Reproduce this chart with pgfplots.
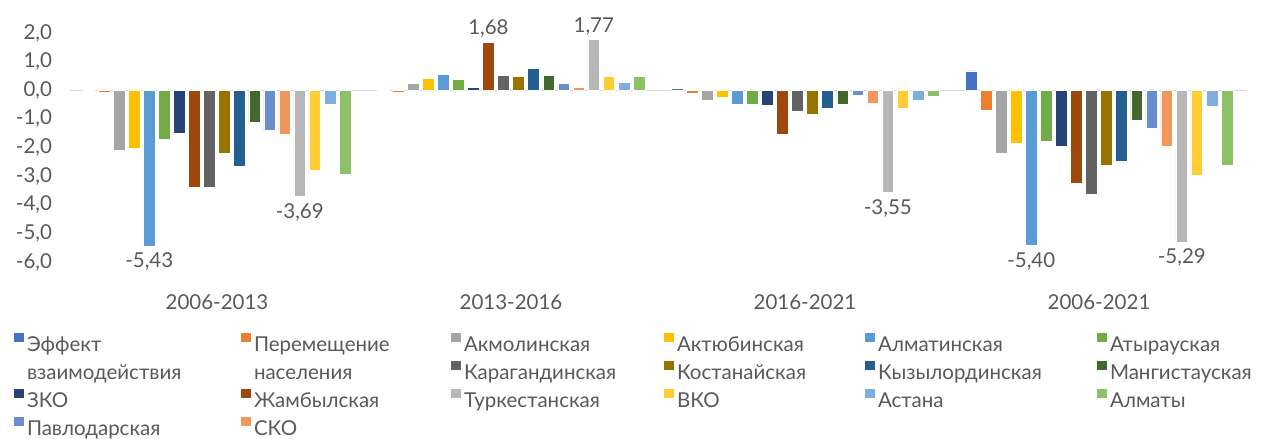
\documentclass[border=0pt]{standalone}
\usepackage{pgfplots}
\pgfplotsset{compat=1.18}
\usepackage{pgfplotstable}
\usepackage{fontspec}
\setmainfont{Lato}
\definecolor{c0}{HTML}{4472C4}
\definecolor{c1}{HTML}{ED7D31}
\definecolor{c2}{HTML}{A5A5A5}
\definecolor{c3}{HTML}{FFC000}
\definecolor{c4}{HTML}{5B9BD5}
\definecolor{c5}{HTML}{70AD47}
\definecolor{c6}{HTML}{264478}
\definecolor{c7}{HTML}{9E480E}
\definecolor{c8}{HTML}{636363}
\definecolor{c9}{HTML}{997300}
\definecolor{c10}{HTML}{255E91}
\definecolor{c11}{HTML}{43682B}
\definecolor{c12}{HTML}{698ED0}
\definecolor{c13}{HTML}{F1975A}
\definecolor{c14}{HTML}{B7B7B7}
\definecolor{c15}{HTML}{FFCD33}
\definecolor{c16}{HTML}{7CAFDD}
\definecolor{c17}{HTML}{8CC168}
\definecolor{txt}{HTML}{595959}
\definecolor{zl}{HTML}{D9D9D9}

\pgfplotstableread{
x  s0    s1    s2    s3    s4    s5    s6    s7    s8    s9    s10   s11   s12   s13   s14   s15   s16   s17
0  0.00 -0.08 -2.09 -2.04 -5.43 -1.71 -1.51 -3.39 -3.37 -2.20 -2.64 -1.11 -1.40 -1.52 -3.69 -2.78 -0.50 -2.93
1  0.04 -0.07  0.24  0.41  0.56  0.38  0.10  1.68  0.51  0.48  0.76  0.52  0.23  0.10  1.77  0.48  0.27  0.49
2  0.08 -0.10 -0.34 -0.24 -0.50 -0.50 -0.52 -1.54 -0.73 -0.82 -0.62 -0.48 -0.19 -0.44 -3.55 -0.63 -0.34 -0.21
3  0.68 -0.69 -2.19 -1.86 -5.40 -1.79 -1.94 -3.24 -3.62 -2.60 -2.49 -1.04 -1.34 -1.97 -5.29 -2.97 -0.55 -2.63
}\data

\newcommand{\fs}{\fontsize{20.5}{25}\selectfont}

\begin{document}
\begin{tikzpicture}
\begin{axis}[
  name=ax,
  scale only axis,
  width=1176pt, height=229.2pt,
  xmin=-0.5, xmax=3.5, ymin=-6, ymax=2,
  axis line style={draw=none},
  tick style={draw=none},
  major tick length=0pt,
  xtick={0,1,2,3},
  xticklabels={2006-2013,2013-2016,2016-2021,2006-2021},
  ytick={-6,-5,-4,-3,-2,-1,0,1,2},
  /pgf/number format/assume math mode=true,
  /pgf/number format/use comma,
  /pgf/number format/fixed,
  /pgf/number format/fixed zerofill,
  /pgf/number format/precision=1,
  tick label style={font=\fs, text=txt},
  yticklabel style={anchor=east, xshift=-14.5pt},
  xticklabel style={anchor=north, text height=15pt, yshift=-29pt},
  extra y ticks={0},
  extra y tick labels={},
  extra y tick style={grid=major, major grid style={draw=zl, line width=1.5pt}},
  legend image code/.code={\fill[#1, draw=none] (0pt,4pt) rectangle (10pt,13pt);},
  legend columns=6,
  legend cell align=left,
  legend style={at={(axis description cs:0,0)}, anchor=north west,
    xshift=-56pt, yshift=-70pt, draw=none, fill=none,
    inner sep=0pt, outer sep=0pt, row sep=0pt, column sep=0pt,
    font=\fs, text=txt,
    nodes={inner xsep=3pt, inner ysep=4pt, text height=15pt, text depth=5pt}},
  bars/.style={ybar, bar width=0.04, draw=white, line width=0.5pt, forget plot},
  lbl/.style 2 args={only marks, mark=none, forget plot, point meta=explicit symbolic,
    nodes near coords, every node near coord/.append style={font=\fs, text=txt, anchor=#1, inner sep=3pt, yshift=#2}},
]
\addplot[bars, fill=c0,  bar shift=-0.4352] table[x=x,y=s0]  {\data};
\addplot[bars, fill=c1,  bar shift=-0.3840] table[x=x,y=s1]  {\data};
\addplot[bars, fill=c2,  bar shift=-0.3328] table[x=x,y=s2]  {\data};
\addplot[bars, fill=c3,  bar shift=-0.2816] table[x=x,y=s3]  {\data};
\addplot[bars, fill=c4,  bar shift=-0.2304] table[x=x,y=s4]  {\data};
\addplot[bars, fill=c5,  bar shift=-0.1792] table[x=x,y=s5]  {\data};
\addplot[bars, fill=c6,  bar shift=-0.1280] table[x=x,y=s6]  {\data};
\addplot[bars, fill=c7,  bar shift=-0.0768] table[x=x,y=s7]  {\data};
\addplot[bars, fill=c8,  bar shift=-0.0256] table[x=x,y=s8]  {\data};
\addplot[bars, fill=c9,  bar shift=0.0256]  table[x=x,y=s9]  {\data};
\addplot[bars, fill=c10, bar shift=0.0768]  table[x=x,y=s10] {\data};
\addplot[bars, fill=c11, bar shift=0.1280]  table[x=x,y=s11] {\data};
\addplot[bars, fill=c12, bar shift=0.1792]  table[x=x,y=s12] {\data};
\addplot[bars, fill=c13, bar shift=0.2304]  table[x=x,y=s13] {\data};
\addplot[bars, fill=c14, bar shift=0.2816]  table[x=x,y=s14] {\data};
\addplot[bars, fill=c15, bar shift=0.3328]  table[x=x,y=s15] {\data};
\addplot[bars, fill=c16, bar shift=0.3840]  table[x=x,y=s16] {\data};
\addplot[bars, fill=c17, bar shift=0.4352]  table[x=x,y=s17] {\data};
% data labels (x = category + bar shift of the labelled series)
\addplot[lbl={north}{-4pt}] coordinates {(-0.2304,-5.43) [-5,43] (2.7696,-5.40) [-5,40]
  (0.2816,-3.69) [-3,69] (2.2816,-3.55) [-3,55] (3.2816,-5.29) [-5,29]};
\addplot[lbl={south}{1.5pt}] coordinates {(0.9232,1.68) [1,68] (1.2816,1.77) [1,77]};
% legend
\addlegendimage{fill=c0}  \addlegendentry{\makebox[211pt][l]{Эффект}}
\addlegendimage{fill=c1}  \addlegendentry{\makebox[194pt][l]{Перемещение}}
\addlegendimage{fill=c2}  \addlegendentry{\makebox[197pt][l]{Акмолинская}}
\addlegendimage{fill=c3}  \addlegendentry{\makebox[185pt][l]{Актюбинская}}
\addlegendimage{fill=c4}  \addlegendentry{\makebox[216pt][l]{Алматинская}}
\addlegendimage{fill=c5}  \addlegendentry{Атырауская}
\addlegendimage{empty legend} \addlegendentry{взаимодействия}
\addlegendimage{empty legend} \addlegendentry{населения}
\addlegendimage{fill=c8}  \addlegendentry{Карагандинская}
\addlegendimage{fill=c9}  \addlegendentry{Костанайская}
\addlegendimage{fill=c10} \addlegendentry{Кызылординская}
\addlegendimage{fill=c11} \addlegendentry{Мангистауская}
\addlegendimage{fill=c6}  \addlegendentry{ЗКО}
\addlegendimage{fill=c7}  \addlegendentry{Жамбылская}
\addlegendimage{fill=c14} \addlegendentry{Туркестанская}
\addlegendimage{fill=c15} \addlegendentry{ВКО}
\addlegendimage{fill=c16} \addlegendentry{Астана}
\addlegendimage{fill=c17} \addlegendentry{Алматы}
\addlegendimage{fill=c12} \addlegendentry{Павлодарская}
\addlegendimage{fill=c13} \addlegendentry{СКО}
\end{axis}
\pgfresetboundingbox
\path ([xshift=-70pt,yshift=-176pt]ax.south west) rectangle ([xshift=16pt,yshift=33pt]ax.north east);
\end{tikzpicture}
\end{document}
